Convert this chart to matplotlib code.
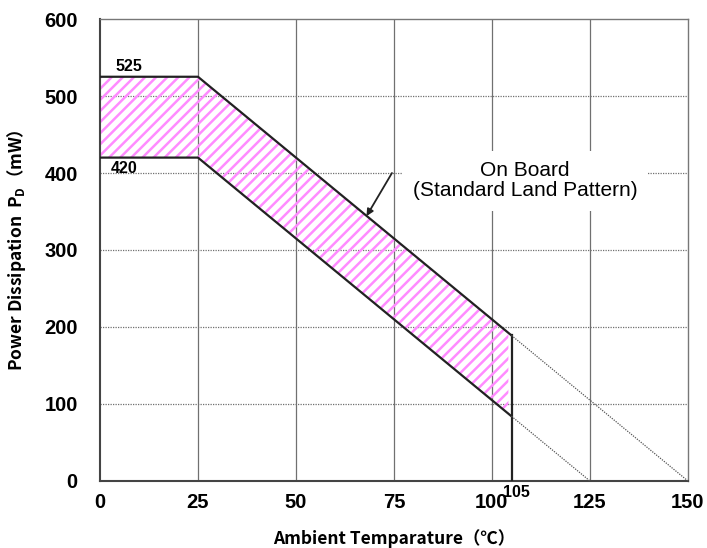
import numpy as np
import matplotlib
matplotlib.use('Agg')
import matplotlib.pyplot as plt

# derating curve data
upper_T = [0, 25, 105]
upper_P = [525, 525, 189]
lower_T = [0, 25, 105]
lower_P = [420, 420, 84]
upper_ext_T = [105, 150]
upper_ext_P = [189, 0]
lower_ext_T = [105, 125]
lower_ext_P = [84, 0]
cutoff_T = [105, 105]
cutoff_P = [189, 0]
hatch_end = 104.2

x_ticks = [0, 25, 50, 75, 100, 125, 150]
y_ticks = [0, 100, 200, 300, 400, 500, 600]

plt.rcParams['hatch.linewidth'] = 1.8
plt.rcParams['mathtext.default'] = 'regular'

fig = plt.figure(figsize=(7.07, 5.48), dpi=100)
ax = fig.add_axes([0.1414, 0.1223, 0.8316, 0.843])

# grid: solid verticals, dotted horizontals
for t in x_ticks[1:-1]:
    ax.axvline(t, color='#707070', lw=0.9, zorder=1)
for p in y_ticks[1:-1]:
    ax.axhline(p, color='#707070', lw=0.9, ls=(0, (1, 1)), zorder=1)

# hatched band between the two curves
xs = np.array([0, 25, hatch_end])
hi = np.interp(xs, upper_T, upper_P)
lo = np.interp(xs, lower_T, lower_P)
ax.fill_between(xs, lo, hi, facecolor='none', edgecolor='#ff8cff',
                hatch='///', linewidth=0, zorder=2)

ax.plot(upper_T, upper_P, color='#222222', lw=1.6, zorder=3)
ax.plot(lower_T, lower_P, color='#222222', lw=1.6, zorder=3)
ax.plot(cutoff_T, cutoff_P, color='#222222', lw=1.6, zorder=3)
ax.plot(upper_ext_T, upper_ext_P, color='#555555', lw=0.9, ls=(0, (1, 1)), zorder=3)
ax.plot(lower_ext_T, lower_ext_P, color='#555555', lw=0.9, ls=(0, (1, 1)), zorder=3)

ax.set_xlim(0, 150)
ax.set_ylim(0, 600)
ax.set_xticks(x_ticks)
ax.set_yticks(y_ticks)
ax.tick_params(length=0, labelsize=14.5)
ax.tick_params(axis='x', pad=9)
ax.tick_params(axis='y', pad=16)
for lab in ax.get_xticklabels() + ax.get_yticklabels():
    lab.set_fontfamily('Liberation Sans')
    lab.set_fontweight('bold')

for side in ['left', 'bottom']:
    ax.spines[side].set_color('#444444')
    ax.spines[side].set_linewidth(1.5)
for side in ['top', 'right']:
    ax.spines[side].set_color('#777777')
    ax.spines[side].set_linewidth(1.0)

ax.text(7.5, 529, '525', fontsize=11.5, fontweight='bold', family='Liberation Sans',
        ha='center', va='bottom', zorder=4)
ax.text(6.2, 416, '420', fontsize=11.5, fontweight='bold', family='Liberation Sans',
        ha='center', va='top', zorder=4)
ax.text(106.3, -5, '105', fontsize=11.5, fontweight='bold', family='Liberation Sans',
        ha='center', va='top', clip_on=False)

ax.text(108.5, 390, 'On Board\n(Standard Land Pattern)', fontsize=15,
        family='Liberation Sans', ha='center', va='center', linespacing=1.1,
        bbox=dict(boxstyle='square,pad=0.5', facecolor='white', edgecolor='none'),
        zorder=5)
ax.annotate('', xy=(68, 344), xytext=(74.5, 400),
            arrowprops=dict(arrowstyle='-|>', color='#222222', lw=1.3,
                            mutation_scale=10, shrinkA=0, shrinkB=0),
            zorder=6)

ax.set_xlabel('Ambient Temparature（℃）', family='Noto Sans CJK JP',
              fontsize=12.5, fontweight='bold', labelpad=12)
ax.set_ylabel('Power Dissipation  P$_{D}$（mW）', family='Noto Sans CJK JP',
              fontsize=12.5, fontweight='bold', labelpad=12)

fig.savefig('out.png', dpi=100)
